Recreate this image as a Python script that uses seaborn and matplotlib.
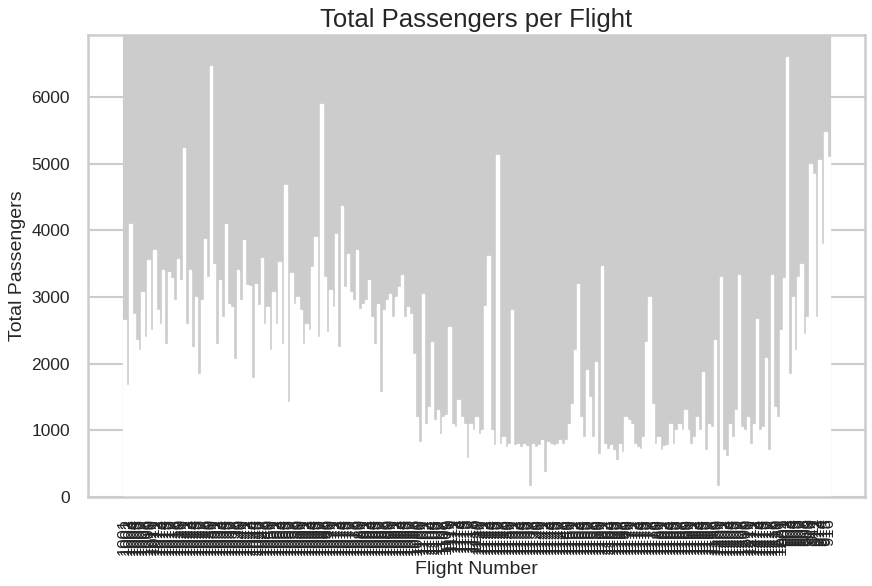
import pandas as pd
import seaborn as sns
import matplotlib
matplotlib.use("Agg")
import matplotlib.pyplot as plt

# passengers per flight (left to right)
passengers = [
    2650, 1680, 4100, 2750, 2350, 2200, 3080, 2400, 3560, 2500,
    3700, 2800, 2600, 3400, 2300, 3380, 3280, 2950, 3570, 3250,
    5230, 2600, 3400, 2250, 3000, 1850, 2960, 3870, 3300, 6470,
    3500, 2300, 3250, 2700, 4100, 2900, 2850, 2070, 3400, 2950,
    3850, 3180, 3170, 1780, 3200, 2880, 3580, 2600, 2850, 2200,
    3080, 2600, 3520, 2300, 4680, 1430, 3360, 2900, 3000, 2800,
    2300, 2600, 2500, 3450, 3900, 2400, 5900, 3300, 2470, 3100,
    2850, 3950, 2250, 4360, 3150, 3650, 3080, 2950, 3700, 2820,
    2900, 2950, 3250, 2700, 2300, 2900, 1580, 2800, 2950, 3050,
    2700, 3000, 3150, 3330, 2700, 2850, 2750, 2150, 1200, 820,
    3050, 1100, 1350, 2330, 1150, 1300, 950, 1200, 1230, 2550,
    1100, 1050, 1460, 1200, 1100, 580, 1100, 1000, 1200, 950,
    1000, 2870, 3620, 1000, 780, 5130, 800, 900, 750, 800,
    2800, 780, 800, 750, 800, 760, 170, 800, 750, 780,
    850, 380, 820, 800, 780, 800, 850, 800, 850, 1100,
    1400, 2200, 3200, 1200, 900, 1900, 1500, 900, 2030, 650,
    3460, 800, 720, 780, 700, 560, 800, 680, 1200, 1150,
    1100, 800, 750, 720, 900, 2330, 3000, 1400, 800, 900,
    700, 760, 780, 1100, 800, 1000, 1100, 1000, 1300, 1000,
    800, 900, 1200, 1000, 1880, 700, 1100, 1050, 2350, 170,
    3300, 700, 620, 1100, 900, 1300, 3330, 1050, 1000, 1200,
    800, 1100, 2670, 1000, 1050, 2080, 700, 3330, 1350, 1200,
    2500, 3280, 6600, 1850, 3000, 2200, 3300, 3500, 2450, 2700,
    5000, 4850, 2700, 5060, 3800, 5480, 5100,
]

# flight numbers (4-digit ones first, a few 3-digit ones at the end)
n_long = len(passengers) - 16
flights = [str(1001 + i) for i in range(n_long)] + [str(901 + i) for i in range(16)]

df = pd.DataFrame({"Flight Number": flights, "Total Passengers": passengers})

sns.set_theme(style="whitegrid")
plt.rcParams["font.family"] = ["Liberation Sans", "DejaVu Sans"]

fig = plt.figure(figsize=(8.72, 5.86), dpi=100)
ax = fig.add_axes([0.1009, 0.1519, 0.8911, 0.7884])

sns.barplot(data=df, x="Flight Number", y="Total Passengers",
            color="white", edgecolor="white", linewidth=1.0,
            errorbar=None, ax=ax)

# one light grid line per flight, like plt.bar on a whitegrid axes
ax.xaxis.grid(True, color="#cccccc", linewidth=2.3)
ax.yaxis.grid(True, color="#cccccc", linewidth=1.5)
n = len(flights)
pad = 0.05 * (n - 1 + 0.8)
ax.set_xlim(-0.4 - pad, n - 1 + 0.4 + pad)

for side in ax.spines.values():
    side.set_color("#cccccc")
    side.set_linewidth(1.8)

ax.tick_params(axis="x", labelrotation=90, labelsize=12, pad=15, length=0)
ax.tick_params(axis="y", labelsize=12.5, pad=13, length=0)
for lab in ax.get_xticklabels():
    lab.set_color("#262626")

ax.set_title("Total Passengers per Flight", fontsize=18.5)
ax.set_xlabel("Flight Number", fontsize=14)
ax.set_ylabel("Total Passengers", fontsize=14)

fig.savefig("out.png", dpi=100)
